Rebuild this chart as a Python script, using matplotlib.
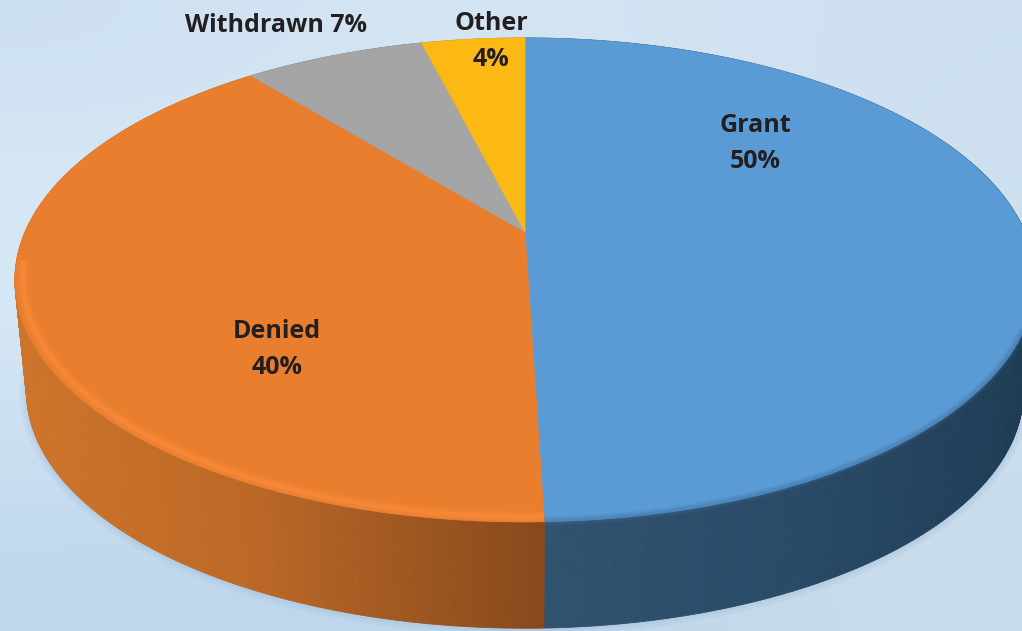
import numpy as np
import matplotlib
matplotlib.use('Agg')
import matplotlib.pyplot as plt
from matplotlib.transforms import Transform

categories = ['Grant', 'Denied', 'Withdrawn', 'Other']
values = [50, 40, 7, 4]
separators = ['\n', '\n', ' ', '\n']
label_x = [755, 277, 276, 491]
label_y = [143.5, 349.5, 25, 41.5]

top_colors = ['#5b9bd5', '#e97e2e', '#a5a5a5', '#fdb913']
# wall shade goes with screen x: stops, then colors for the slice
wall_x = [0, 250, 545, 800, 1040]
wall_shades = {
    'Grant': ['#30506f', '#30506f', '#30536f', '#2a4a68', '#1f3c54'],
    'Denied': ['#cf752a', '#bc6827', '#86491c', '#86491c', '#86491c'],
    'Withdrawn': ['#777777'] * 5,
    'Other': ['#b5850f'] * 5,
}
bg = [['#cee1f1', '#d4e5f3', '#d2e3f2', '#cfe1f1'],
      ['#dbeaf6', '#d8e8f5', '#d3e4f2', '#cde0f0'],
      ['#d0e3f3', '#cfe2f2', '#cee0f0', '#cbdeee'],
      ['#bfd8ee', '#bcd6ec', '#c1d8ec', '#c8dceb']]
# bevel per slice: color, radius, and line widths / alphas of the soft stroke
bevels = {
    'Grant': ('#3f6f9c', 0.998, [(6, 0.2), (3, 0.3)]),
    'Denied': ('#fd8d3c', 0.985, [(9, 0.15), (6, 0.3), (3, 0.45)]),
}


class Perspective(Transform):
    """Unit circle of the pie -> pixel position of the tilted disc"""
    input_dims = 2
    output_dims = 2
    is_separable = False

    def __init__(self, y0, scale=1.0):
        super().__init__()
        self.y0 = y0
        self.scale = scale

    def transform_non_affine(self, xy):
        xy = np.asarray(xy)
        w = 1 + 0.198 * xy[:, 1]
        sx = 525 + self.scale * 500 * xy[:, 0] / w
        sy = self.y0 - self.scale * 232.5 * xy[:, 1] / w
        return np.column_stack([sx, sy])


def hex_rgb(c):
    return np.array(matplotlib.colors.to_rgb(c))


fig = plt.figure(figsize=(10.22, 6.31), dpi=100)
ax = fig.add_axes([0, 0, 1, 1])

wedges, _ = ax.pie(values, colors=top_colors, startangle=90, counterclock=False)
ax.set_aspect('auto')
ax.axis('off')

grid = np.array([[hex_rgb(c) for c in row] for row in bg])
ax.imshow(grid, extent=(0, 1022, 631, 0), aspect='auto', interpolation='bicubic', zorder=0)
ax.set_xlim(0, 1022)
ax.set_ylim(631, 0)

top = Perspective(232)
bottom = Perspective(345, 0.977)

# faint shadow round the foot of the wall
t = np.radians(np.linspace(150, 390, 200))
for lw in [10, 5]:
    ax.plot(np.cos(t), np.sin(t), color='#5f86a8', lw=lw, alpha=0.07,
            transform=bottom + ax.transData, zorder=1)

# side wall, thin strips per slice
for w, name in zip(wedges, categories):
    t = np.radians(np.linspace(w.theta1, w.theta2, int(w.theta2 - w.theta1) * 2 + 2))
    ring = np.column_stack([np.cos(t), np.sin(t)])
    up = top.transform_non_affine(ring)
    lo = bottom.transform_non_affine(ring)
    rgb = np.array([hex_rgb(c) for c in wall_shades[name]])
    for i in range(len(t) - 1):
        xm = (up[i, 0] + up[i + 1, 0]) / 2
        col = [np.interp(xm, wall_x, rgb[:, k]) for k in range(3)]
        ax.fill([up[i, 0], up[i + 1, 0], lo[i + 1, 0], lo[i, 0]],
                [up[i, 1], up[i + 1, 1], lo[i + 1, 1], lo[i, 1]],
                color=col, lw=0.6, zorder=2)

# top of the disc
for w, c in zip(wedges, top_colors):
    w.set_transform(top + ax.transData)
    w.set_edgecolor(c)
    w.set_linewidth(0.5)
    w.set_zorder(3)
    w.set_clip_on(False)

# soft bevel on the front of the rim only
for w, name in zip(wedges, categories):
    if name not in bevels:
        continue
    c, r, strokes = bevels[name]
    t = np.radians(np.linspace(w.theta1, w.theta2, 300))
    t = t[np.sin(t) < -0.12]
    for lw, a in strokes:
        ax.plot(r * np.cos(t), r * np.sin(t), color=c, lw=lw, alpha=a,
                transform=top + ax.transData, zorder=4, solid_capstyle='butt')

for name, val, sep, x, y in zip(categories, values, separators, label_x, label_y):
    ax.text(x, y, f'{name}{sep}{val}%', ha='center', va='center', family='Open Sans',
            weight='bold', fontsize=18, color='#231f20', linespacing=1.55, zorder=6)

fig.savefig('out.png', dpi=100)
